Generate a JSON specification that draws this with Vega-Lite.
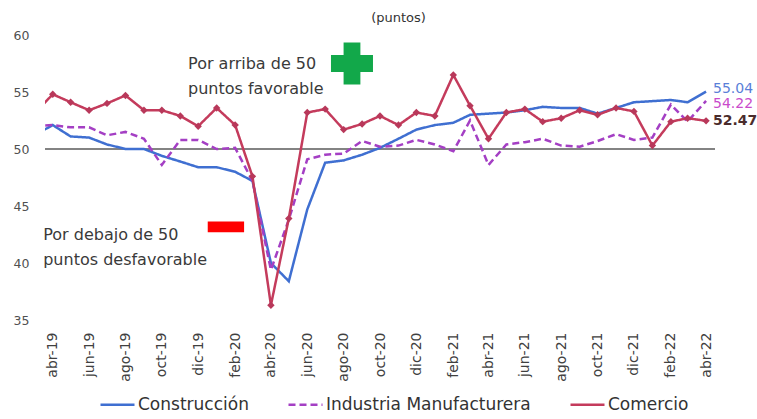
{
  "$schema": "https://vega.github.io/schema/vega-lite/v6.json",
  "width": 670,
  "height": 285,
  "autosize": {"type": "none"},
  "padding": {"left": 45, "top": 35, "right": 42, "bottom": 99},
  "config": {
    "view": {"stroke": null},
    "font": "DejaVu Sans",
    "axis": {"domain": false, "ticks": false, "grid": false, "title": null},
    "axisX": {"labelOverlap": false, "labelSeparation": 0, "labelBound": false}
  },
  "data": {
    "values": [
      {"fecha": "2019-03-01", "Construcción": 51.2, "Industria Manufacturera": 52.0, "Comercio": 53.1},
      {"fecha": "2019-04-01", "Construcción": 52.1, "Industria Manufacturera": 52.1, "Comercio": 54.8},
      {"fecha": "2019-05-01", "Construcción": 51.1, "Industria Manufacturera": 51.9, "Comercio": 54.1},
      {"fecha": "2019-06-01", "Construcción": 51.0, "Industria Manufacturera": 51.9, "Comercio": 53.4},
      {"fecha": "2019-07-01", "Construcción": 50.4, "Industria Manufacturera": 51.2, "Comercio": 54.0},
      {"fecha": "2019-08-01", "Construcción": 50.0, "Industria Manufacturera": 51.5, "Comercio": 54.7},
      {"fecha": "2019-09-01", "Construcción": 50.0, "Industria Manufacturera": 50.9, "Comercio": 53.4},
      {"fecha": "2019-10-01", "Construcción": 49.4, "Industria Manufacturera": 48.6, "Comercio": 53.4},
      {"fecha": "2019-11-01", "Construcción": 48.9, "Industria Manufacturera": 50.8, "Comercio": 52.9},
      {"fecha": "2019-12-01", "Construcción": 48.4, "Industria Manufacturera": 50.8, "Comercio": 52.0},
      {"fecha": "2020-01-01", "Construcción": 48.4, "Industria Manufacturera": 50.0, "Comercio": 53.6},
      {"fecha": "2020-02-01", "Construcción": 48.0, "Industria Manufacturera": 50.1, "Comercio": 52.1},
      {"fecha": "2020-03-01", "Construcción": 47.2, "Industria Manufacturera": 47.2, "Comercio": 47.6},
      {"fecha": "2020-04-01", "Construcción": 40.0, "Industria Manufacturera": 39.4, "Comercio": 36.3},
      {"fecha": "2020-05-01", "Construcción": 38.4, "Industria Manufacturera": 43.8, "Comercio": 43.9},
      {"fecha": "2020-06-01", "Construcción": 44.7, "Industria Manufacturera": 49.1, "Comercio": 53.2},
      {"fecha": "2020-07-01", "Construcción": 48.8, "Industria Manufacturera": 49.5, "Comercio": 53.5},
      {"fecha": "2020-08-01", "Construcción": 49.0, "Industria Manufacturera": 49.6, "Comercio": 51.7},
      {"fecha": "2020-09-01", "Construcción": 49.5, "Industria Manufacturera": 50.7, "Comercio": 52.2},
      {"fecha": "2020-10-01", "Construcción": 50.1, "Industria Manufacturera": 50.2, "Comercio": 52.9},
      {"fecha": "2020-11-01", "Construcción": 50.9, "Industria Manufacturera": 50.3, "Comercio": 52.1},
      {"fecha": "2020-12-01", "Construcción": 51.7, "Industria Manufacturera": 50.8, "Comercio": 53.2},
      {"fecha": "2021-01-01", "Construcción": 52.1, "Industria Manufacturera": 50.4, "Comercio": 52.9},
      {"fecha": "2021-02-01", "Construcción": 52.3, "Industria Manufacturera": 49.8, "Comercio": 56.5},
      {"fecha": "2021-03-01", "Construcción": 53.0, "Industria Manufacturera": 52.5, "Comercio": 53.8},
      {"fecha": "2021-04-01", "Construcción": 53.1, "Industria Manufacturera": 48.6, "Comercio": 50.9},
      {"fecha": "2021-05-01", "Construcción": 53.2, "Industria Manufacturera": 50.4, "Comercio": 53.2},
      {"fecha": "2021-06-01", "Construcción": 53.4, "Industria Manufacturera": 50.6, "Comercio": 53.5},
      {"fecha": "2021-07-01", "Construcción": 53.7, "Industria Manufacturera": 50.9, "Comercio": 52.4},
      {"fecha": "2021-08-01", "Construcción": 53.6, "Industria Manufacturera": 50.3, "Comercio": 52.7},
      {"fecha": "2021-09-01", "Construcción": 53.6, "Industria Manufacturera": 50.2, "Comercio": 53.4},
      {"fecha": "2021-10-01", "Construcción": 53.1, "Industria Manufacturera": 50.7, "Comercio": 53.0},
      {"fecha": "2021-11-01", "Construcción": 53.6, "Industria Manufacturera": 51.3, "Comercio": 53.6},
      {"fecha": "2021-12-01", "Construcción": 54.1, "Industria Manufacturera": 50.8, "Comercio": 53.3},
      {"fecha": "2022-01-01", "Construcción": 54.2, "Industria Manufacturera": 51.0, "Comercio": 50.3},
      {"fecha": "2022-02-01", "Construcción": 54.3, "Industria Manufacturera": 53.9, "Comercio": 52.4},
      {"fecha": "2022-03-01", "Construcción": 54.1, "Industria Manufacturera": 52.4, "Comercio": 52.7},
      {"fecha": "2022-04-01", "Construcción": 55.04, "Industria Manufacturera": 54.22, "Comercio": 52.47}
    ]
  },
  "layer": [
    {
      "data": {"values": [{}]},
      "mark": {"type": "rule", "color": "#5a5a5a", "strokeWidth": 1.5},
      "encoding": {"y": {"datum": 50, "type": "quantitative"}}
    },
    {
      "transform": [{"fold": ["Construcción", "Industria Manufacturera", "Comercio"], "as": ["serie", "valor"]}],
      "mark": {"type": "line", "strokeWidth": 2.5, "clip": true},
      "encoding": {
        "x": {
          "field": "fecha", "type": "temporal",
          "scale": {"type": "utc", "domain": [{"year": 2019, "month": 3, "date": 19, "utc": true}, {"year": 2022, "month": 4, "date": 16, "utc": true}]},
          "axis": {
            "title": null,
            "tickCount": 60,
            "values": [
              {"year": 2019, "month": 4, "date": 1, "utc": true},
              {"year": 2019, "month": 6, "date": 1, "utc": true},
              {"year": 2019, "month": 8, "date": 1, "utc": true},
              {"year": 2019, "month": 10, "date": 1, "utc": true},
              {"year": 2019, "month": 12, "date": 1, "utc": true},
              {"year": 2020, "month": 2, "date": 1, "utc": true},
              {"year": 2020, "month": 4, "date": 1, "utc": true},
              {"year": 2020, "month": 6, "date": 1, "utc": true},
              {"year": 2020, "month": 8, "date": 1, "utc": true},
              {"year": 2020, "month": 10, "date": 1, "utc": true},
              {"year": 2020, "month": 12, "date": 1, "utc": true},
              {"year": 2021, "month": 2, "date": 1, "utc": true},
              {"year": 2021, "month": 4, "date": 1, "utc": true},
              {"year": 2021, "month": 6, "date": 1, "utc": true},
              {"year": 2021, "month": 8, "date": 1, "utc": true},
              {"year": 2021, "month": 10, "date": 1, "utc": true},
              {"year": 2021, "month": 12, "date": 1, "utc": true},
              {"year": 2022, "month": 2, "date": 1, "utc": true},
              {"year": 2022, "month": 4, "date": 1, "utc": true}
            ],
            "labelExpr": "['ene','feb','mar','abr','may','jun','jul','ago','sep','oct','nov','dic'][utcmonth(datum.value)] + '-' + utcFormat(datum.value, '%y')",
            "labelAngle": 270,
            "labelFontSize": 14,
            "labelColor": "#404040",
            "labelPadding": 12,
            "labelOverlap": false,
            "labelSeparation": 0,
            "labelFlush": false
          }
        },
        "y": {
          "field": "valor", "type": "quantitative",
          "scale": {"domain": [35, 60], "nice": false, "zero": false},
          "axis": {"title": null, "values": [35, 40, 45, 50, 55, 60], "labelFontSize": 12.5, "labelColor": "#505050", "labelPadding": 16}
        },
        "color": {
          "field": "serie", "type": "nominal",
          "scale": {"domain": ["Construcción", "Industria Manufacturera", "Comercio"], "range": ["#3f6fd1", "#a43fc4", "#c43b5c"]},
          "legend": {
            "orient": "none", "legendX": 54, "legendY": 351, "direction": "horizontal", "columns": 3,
            "title": null, "symbolType": "stroke", "symbolSize": 1156, "symbolStrokeWidth": 2.5,
            "labelFontSize": 17, "labelColor": "#333333", "labelOffset": 2, "columnPadding": 34, "labelLimit": 400, "padding": 0
          }
        },
        "strokeDash": {
          "field": "serie", "type": "nominal",
          "scale": {"domain": ["Construcción", "Industria Manufacturera", "Comercio"], "range": [[1, 0], [7, 4], [1, 0]]}
        }
      }
    },
    {
      "transform": [
        {"fold": ["Construcción", "Industria Manufacturera", "Comercio"], "as": ["serie", "valor"]},
        {"filter": "datum.serie === 'Comercio'"}
      ],
      "mark": {"type": "point", "shape": "diamond", "filled": true, "size": 55, "color": "#b8385a", "opacity": 1, "clip": true},
      "encoding": {
        "x": {"field": "fecha", "type": "temporal"},
        "y": {"field": "valor", "type": "quantitative"}
      }
    },
    {
      "data": {"values": [
        {"fecha": "2020-11-01", "valor": 61.5, "texto": "(puntos)"}
      ]},
      "mark": {"type": "text", "fontSize": 13, "color": "#333333", "align": "center", "baseline": "middle"},
      "encoding": {
        "x": {"field": "fecha", "type": "temporal"},
        "y": {"field": "valor", "type": "quantitative"},
        "text": {"field": "texto"}
      }
    },
    {
      "data": {"values": [
        {"fecha": "2019-11-14", "valor": 57.5, "texto": "Por arriba de 50\npuntos favorable"},
        {"fecha": "2019-03-16", "valor": 42.5, "texto": "Por debajo de 50\npuntos desfavorable"}
      ]},
      "mark": {"type": "text", "fontSize": 16, "color": "#3a3a3a", "align": "left", "baseline": "middle", "lineBreak": "\n", "lineHeight": 25},
      "encoding": {
        "x": {"field": "fecha", "type": "temporal"},
        "y": {"field": "valor", "type": "quantitative"},
        "text": {"field": "texto"}
      }
    },
    {
      "data": {"values": [{"fecha": "2020-08-15", "valor": 57.5}]},
      "mark": {"type": "point", "shape": "cross", "filled": true, "size": 1764, "color": "#12a84a", "opacity": 1},
      "encoding": {
        "x": {"field": "fecha", "type": "temporal"},
        "y": {"field": "valor", "type": "quantitative"}
      }
    },
    {
      "data": {"values": [{"fecha": "2019-12-17", "fecha2": "2020-02-16", "valor": 43.65, "valor2": 42.69}]},
      "mark": {"type": "rect", "color": "#ff0000"},
      "encoding": {
        "x": {"field": "fecha", "type": "temporal"},
        "x2": {"field": "fecha2"},
        "y": {"field": "valor", "type": "quantitative"},
        "y2": {"field": "valor2"}
      }
    },
    {
      "data": {"values": [{"fecha": "2022-04-01", "valor": 55.04, "texto": "55.04"}]},
      "mark": {"type": "text", "fontSize": 14, "color": "#5a7fd8", "align": "left", "baseline": "middle", "dx": 7, "dy": -2.5},
      "encoding": {
        "x": {"field": "fecha", "type": "temporal"},
        "y": {"field": "valor", "type": "quantitative"},
        "text": {"field": "texto"}
      }
    },
    {
      "data": {"values": [{"fecha": "2022-04-01", "valor": 54.22, "texto": "54.22"}]},
      "mark": {"type": "text", "fontSize": 14, "color": "#c94bcb", "align": "left", "baseline": "middle", "dx": 7, "dy": 3},
      "encoding": {
        "x": {"field": "fecha", "type": "temporal"},
        "y": {"field": "valor", "type": "quantitative"},
        "text": {"field": "texto"}
      }
    },
    {
      "data": {"values": [{"fecha": "2022-04-01", "valor": 52.47, "texto": "52.47"}]},
      "mark": {"type": "text", "fontSize": 14, "fontWeight": "bold", "color": "#4a2c2c", "align": "left", "baseline": "middle", "dx": 7, "dy": 0},
      "encoding": {
        "x": {"field": "fecha", "type": "temporal"},
        "y": {"field": "valor", "type": "quantitative"},
        "text": {"field": "texto"}
      }
    }
  ]
}
